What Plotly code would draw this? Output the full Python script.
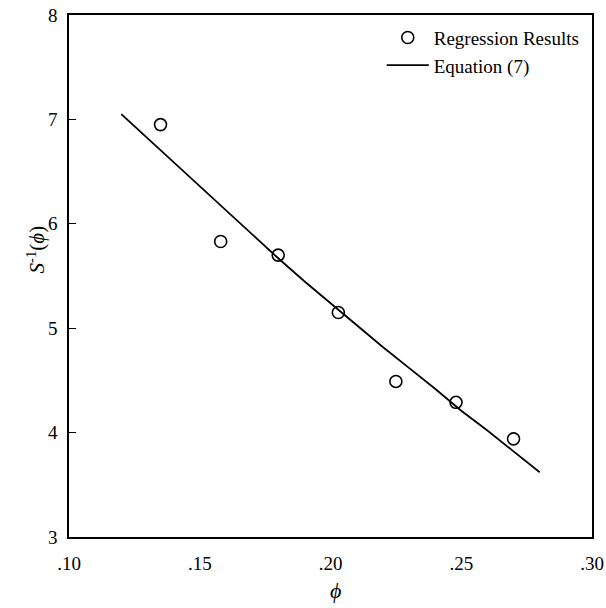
import plotly.graph_objects as go

# Regression results (points)
phi_pts = [0.135, 0.158, 0.180, 0.203, 0.225, 0.248, 0.270]
s_inv_pts = [6.95, 5.83, 5.70, 5.15, 4.49, 4.29, 3.94]

# Equation (7) curve
phi_eq = [0.12, 0.13, 0.14, 0.15, 0.16, 0.17, 0.18, 0.19, 0.20,
          0.21, 0.22, 0.23, 0.24, 0.25, 0.26, 0.27, 0.28]
s_inv_eq = [7.05, 6.82, 6.59, 6.36, 6.13, 5.90, 5.67, 5.45, 5.24,
            5.03, 4.82, 4.62, 4.42, 4.21, 4.02, 3.82, 3.62]

x_tickvals = [0.10, 0.15, 0.20, 0.25, 0.30]
x_ticklabels = [".10", ".15", ".20", ".25", ".30"]
y_tickvals = [3, 4, 5, 6, 7, 8]
y_ticklabels = ["3", "4", "5", "6", "7", "8"]

FONT = "Liberation Serif"

fig = go.Figure()
fig.add_trace(go.Scatter(
    x=phi_pts, y=s_inv_pts, mode="markers", name="Regression Results",
    marker=dict(symbol="circle-open", size=12, color="black", line=dict(width=1.6)),
))
fig.add_trace(go.Scatter(
    x=phi_eq, y=s_inv_eq, mode="lines", name="Equation (7)",
    line=dict(color="black", width=1.8),
))

fig.update_layout(
    width=606, height=608,
    margin=dict(l=69, r=14, t=15, b=71, autoexpand=False),
    paper_bgcolor="white", plot_bgcolor="white",
    font=dict(family=FONT, size=19, color="black"),
    showlegend=True,
    legend=dict(x=0.598, y=0.993, xanchor="left", yanchor="top",
                bgcolor="rgba(0,0,0,0)", font=dict(family=FONT, size=19),
                tracegroupgap=0, itemwidth=42),
    xaxis=dict(range=[0.10, 0.30], tickvals=x_tickvals, ticktext=x_ticklabels,
               showgrid=False, zeroline=False, showline=True, linecolor="black",
               linewidth=1.5, mirror=True, ticks="", ticklen=0,
               ticklabelstandoff=8, automargin=False,
               tickfont=dict(family=FONT, size=19)),
    yaxis=dict(range=[3, 8], tickvals=y_tickvals, ticktext=y_ticklabels,
               showgrid=False, zeroline=False, showline=True, linecolor="black",
               linewidth=1.5, mirror=True, ticks="inside", ticklen=7,
               tickcolor="black", tickwidth=1.2, ticklabelstandoff=6,
               automargin=False,
               tickfont=dict(family=FONT, size=19)),
    annotations=[
        dict(text="<i>ϕ</i>", xref="paper", yref="paper", x=0.51, y=-0.102,
             xanchor="center", yanchor="middle", showarrow=False,
             font=dict(family=FONT, size=22)),
        dict(text="<i>S</i><sup>-1</sup>(<i>ϕ</i>)", xref="paper", yref="paper",
             x=-0.062, y=0.55, xanchor="center", yanchor="middle", showarrow=False,
             textangle=-90, font=dict(family=FONT, size=21)),
    ],
)

fig.write_html("out.html")
